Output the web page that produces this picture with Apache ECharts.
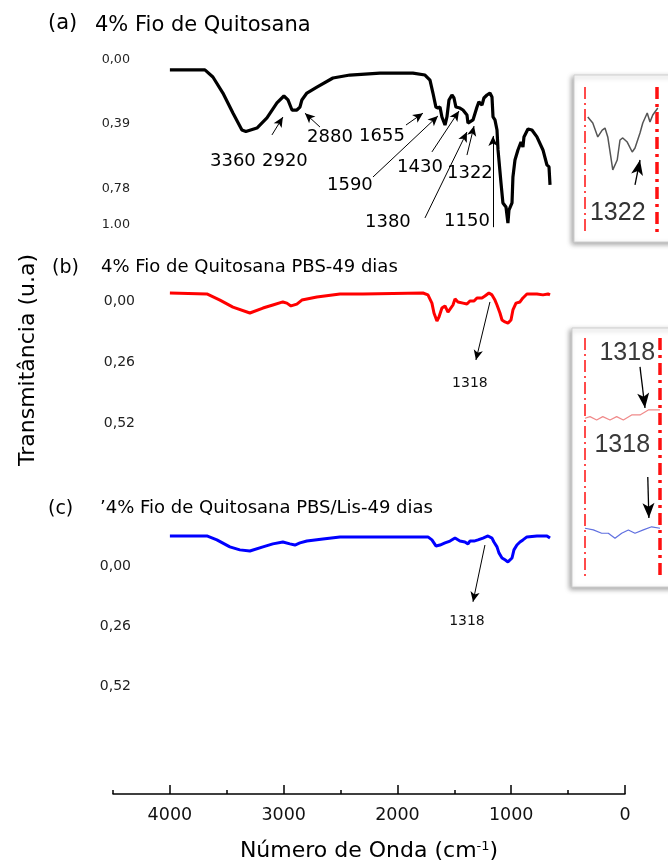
<!DOCTYPE html>
<html>
<head>
<meta charset="utf-8">
<script src="https://cdn.jsdelivr.net/npm/echarts@6/dist/echarts.min.js"></script>
<style>html,body{margin:0;padding:0;background:#fff}#c{width:668px;height:863px}</style>
</head>
<body>
<div id="c"></div>
<script>
// ---------- data ----------
// (a) 4% Fio de Quitosana
const blackWn = [4000,3692,3622,3534,3446,3367,3332,3235,3147,3059,2998,2962,2927,2884,2857,2840,2796,2708,2567,2418,2154,1864,1758,1714,1688,1662,1644,1626,1609,1582,1565,1547,1521,1503,1486,1451,1424,1407,1389,1380,1363,1336,1319,1301,1284,1257,1240,1213,1187,1169,1160,1143,1125,1116,1090,1073,1046,1029,1020,993,985,967,941,914,897,888,853,818,774,721,686,668,659];
const blackT  = [0.062,0.062,0.105,0.202,0.323,0.426,0.435,0.414,0.353,0.262,0.220,0.244,0.305,0.305,0.287,0.244,0.202,0.166,0.111,0.093,0.081,0.081,0.093,0.124,0.202,0.287,0.293,0.287,0.347,0.396,0.347,0.244,0.214,0.232,0.287,0.293,0.305,0.317,0.335,0.384,0.396,0.365,0.353,0.287,0.256,0.275,0.232,0.214,0.202,0.226,0.347,0.365,0.426,0.547,0.747,0.868,0.893,0.990,0.911,0.868,0.711,0.608,0.547,0.499,0.529,0.468,0.420,0.426,0.468,0.547,0.638,0.650,0.759];
// (b) PBS-49 dias
const redWn = [4000,3675,3560,3446,3297,3182,3095,3007,2972,2936,2884,2840,2708,2505,2303,1776,1732,1697,1679,1653,1635,1609,1582,1556,1512,1494,1468,1424,1389,1363,1327,1301,1257,1231,1196,1169,1143,1125,1099,1081,1055,1029,1002,985,958,923,897,862,774,721,677,659];
const redT  = [-0.034,-0.030,-0.004,0.026,0.051,0.030,0.017,0.004,0.009,0.021,0.013,-0.004,-0.017,-0.030,-0.030,-0.034,-0.026,0.009,0.051,0.085,0.068,0.030,0.021,0.047,0.017,-0.009,0.004,0.009,0.013,0.000,0.000,-0.013,-0.013,-0.021,-0.034,-0.026,-0.004,0.017,0.051,0.081,0.089,0.094,0.081,0.038,0.009,0.004,-0.013,-0.030,-0.030,-0.026,-0.030,-0.026];
// (c) PBS/Lis-49 dias
const blueWn = [4000,3675,3587,3473,3385,3297,3182,3095,3007,2945,2901,2857,2796,2655,2505,2154,1732,1697,1662,1626,1582,1538,1494,1451,1407,1380,1363,1327,1292,1248,1204,1169,1152,1125,1108,1081,1055,1029,993,976,950,923,897,862,774,686,659];
const blueT  = [-0.129,-0.129,-0.112,-0.082,-0.069,-0.064,-0.082,-0.095,-0.103,-0.095,-0.090,-0.099,-0.107,-0.116,-0.125,-0.125,-0.125,-0.112,-0.086,-0.090,-0.099,-0.107,-0.120,-0.107,-0.103,-0.095,-0.107,-0.107,-0.112,-0.120,-0.129,-0.120,-0.103,-0.082,-0.056,-0.034,-0.026,-0.017,-0.034,-0.069,-0.090,-0.103,-0.112,-0.125,-0.129,-0.129,-0.120];
// insets (zoomed region around 1320 cm-1)
const insetAWn = [1415,1406,1397,1389,1384,1379,1370,1362,1357,1352,1344,1335,1330,1321,1316,1308,1303,1298,1289];
const insetAT  = [0.205,0.247,0.342,0.295,0.281,0.342,0.568,0.500,0.363,0.349,0.377,0.445,0.418,0.315,0.247,0.178,0.240,0.192,0.144];
const insetBWn = [1420,1411,1399,1388,1375,1363,1351,1336,1321,1306,1285];
const insetBT  = [0.336,0.329,0.343,0.329,0.343,0.329,0.343,0.322,0.322,0.301,0.301];
const insetCWn = [1420,1405,1390,1378,1366,1354,1342,1330,1315,1300,1285];
const insetCT  = [0.796,0.803,0.817,0.817,0.838,0.817,0.803,0.817,0.803,0.790,0.796];
const insetEdges = [1420, 1290];

// peak annotations of (a)
const peaksA = ['3360','2920','2880','1655','1590','1430','1322','1380','1150'];

// ticks
const xTickValues = [0,1000,2000,3000,4000];
const yTicksA = [0, 0.39, 0.78, 1.00];
const yLabelsA = ['0,00','0,39','0,78','1.00'];
const yTicksBC = [0, 0.26, 0.52];
const yLabelsBC = ['0,00','0,26','0,52'];

// ---------- chart ----------
const FF = '"DejaVu Sans", sans-serif';
const zip = (xs, ys) => xs.map((x, i) => [x, ys[i]]);
const chart = echarts.init(document.getElementById('c'), null, {renderer: 'canvas'});

function mainX(grid, show) {
  return {type: 'value', gridIndex: grid, min: 0, max: 4500, inverse: true, show: show};
}
function mainY(grid, ticks, labels, min, max, off, fs) {
  return {
    type: 'value', gridIndex: grid, inverse: true, min: min, max: max, offset: off,
    axisLine: {show: false}, axisTick: {show: false}, splitLine: {show: false},
    axisLabel: {
      customValues: ticks, margin: 8, fontSize: fs, fontFamily: FF, color: '#222',
      formatter: v => { const i = ticks.findIndex(t => Math.abs(t - v) < 1e-6); return i >= 0 ? labels[i] : ''; }
    }
  };
}
function hiddenAxis(grid, min, max, inv) {
  return {type: 'value', gridIndex: grid, min: min, max: max, inverse: inv, show: false};
}
const arrowLine = {color: '#000', width: 1, type: 'solid'};
const lbl = (name, x, y) => ({name: name, coord: [x, y]});
const arr = (x1, y1, x2, y2) => [{coord: [x1, y1]}, {coord: [x2, y2]}];
const bigArr = (x1, y1, x2, y2) => [{coord: [x1, y1], symbol: 'none'}, {coord: [x2, y2], symbol: 'arrow', symbolSize: [9, 15]}];
const redThin = {color: '#ff1010', width: 1.5, type: [12, 4, 2, 4]};
const redThick = {color: '#ff1010', width: 3.5, type: [12, 5, 3, 5]};

const option = {
  animation: false,
  backgroundColor: '#fff',
  title: [
    {text: '(a)', left: 48, top: 13, padding: 0, textStyle: {fontSize: 21, fontWeight: 'normal', fontFamily: FF, color: '#000'}},
    {text: '4% Fio de Quitosana', left: 95, top: 15, padding: 0, textStyle: {fontSize: 21, fontWeight: 'normal', fontFamily: FF, color: '#000'}},
    {text: '(b)', left: 52, top: 259, padding: 0, textStyle: {fontSize: 19, fontWeight: 'normal', fontFamily: FF, color: '#000'}},
    {text: '4% Fio de Quitosana PBS-49 dias', left: 101, top: 258, padding: 0, textStyle: {fontSize: 18, fontWeight: 'normal', fontFamily: FF, color: '#000'}},
    {text: '(c)', left: 48, top: 500, padding: 0, textStyle: {fontSize: 19, fontWeight: 'normal', fontFamily: FF, color: '#000'}},
    {text: '\u02bc4% Fio de Quitosana PBS/Lis-49 dias', left: 100, top: 499, padding: 0, textStyle: {fontSize: 18, fontWeight: 'normal', fontFamily: FF, color: '#000'}}
  ],
  graphic: [
    {type: 'rect', z: 0, shape: {x: 574, y: 75, width: 110, height: 167},
      style: {fill: '#fff', stroke: '#d0d0d0', lineWidth: 1, shadowBlur: 5, shadowColor: 'rgba(0,0,0,0.35)', shadowOffsetX: -2, shadowOffsetY: 2}},
    {type: 'rect', z: 0, shape: {x: 572, y: 328, width: 110, height: 259},
      style: {fill: '#fff', stroke: '#d0d0d0', lineWidth: 1, shadowBlur: 5, shadowColor: 'rgba(0,0,0,0.35)', shadowOffsetX: -2, shadowOffsetY: 2}},
    {type: 'text', x: 28, y: 360, rotation: Math.PI / 2,
      style: {text: 'Transmitância (u.a)', fontSize: 22, fontFamily: FF, fill: '#000', align: 'center', verticalAlign: 'middle'}}
  ],
  grid: [
    {left: 113, right: 43, top: 56.4, height: 176.55},
    {left: 113, right: 43, top: 286.9, height: 143.35},
    {left: 113, right: 43, top: 531.1, height: 263.9},
    {left: 585, right: 8, top: 87, height: 146},
    {left: 585, right: 8, top: 338, height: 239}
  ],
  xAxis: [
    mainX(0, false),
    mainX(1, false),
    {
      type: 'value', gridIndex: 2, min: 0, max: 4500, interval: 500, inverse: true, position: 'bottom',
      axisLine: {show: true, onZero: false, lineStyle: {color: '#000', width: 1.5}},
      axisTick: {show: true, inside: true, length: 4, lineStyle: {color: '#000', width: 1.5}},
      splitLine: {show: false},
      axisLabel: {margin: 12, fontSize: 17.5, fontFamily: FF, color: '#111',
        formatter: v => xTickValues.indexOf(v) >= 0 ? String(v) : ''},
      name: 'Número de Onda (cm{sup|-1})', nameLocation: 'middle', nameGap: 46,
      nameTextStyle: {fontSize: 22, fontFamily: FF, color: '#000',
        rich: {sup: {fontSize: 13, fontFamily: FF, color: '#000', verticalAlign: 'top', padding: [0, 0, 8, 0]}}}
    },
    {
      type: 'value', gridIndex: 2, min: 0, max: 4500, inverse: true, position: 'bottom',
      axisLine: {show: false, onZero: false}, axisLabel: {show: false}, splitLine: {show: false},
      axisTick: {show: true, inside: true, length: 9, customValues: xTickValues, lineStyle: {color: '#000', width: 1.5}}
    },
    hiddenAxis(3, 1285, 1420, true),
    hiddenAxis(4, 1285, 1420, true)
  ],
  yAxis: [
    mainY(0, yTicksA, yLabelsA, -0.02, 1.05, -25, 12.7),
    mainY(1, yTicksBC, yLabelsBC, -0.06, 0.55, -30, 14),
    mainY(2, yTicksBC, yLabelsBC, -0.15, 0.984, -26, 14),
    hiddenAxis(3, 0, 1, true),
    hiddenAxis(4, 0, 1, true)
  ],
  series: [
    {
      type: 'line', name: '4% Fio de Quitosana', xAxisIndex: 0, yAxisIndex: 0,
      data: zip(blackWn, blackT), showSymbol: false,
      lineStyle: {color: '#000', width: 3.2}, itemStyle: {color: '#000'},
      markLine: {
        silent: true, symbol: ['none', 'arrow'], symbolSize: [7, 10], label: {show: false},
        lineStyle: arrowLine,
        data: [
          arr(3103, 0.456, 3007, 0.348),
          arr(2681, 0.408, 2813, 0.324),
          arr(1925, 0.396, 1776, 0.324),
          arr(2215, 0.711, 1644, 0.341),
          arr(1697, 0.559, 1459, 0.311),
          arr(1389, 0.578, 1327, 0.402),
          arr(1758, 0.959, 1389, 0.438),
          arr(1160, 1.015, 1160, 0.462)
        ]
      },
      markPoint: {
        silent: true, symbol: 'rect', symbolSize: 1, itemStyle: {color: 'rgba(0,0,0,0)'},
        label: {show: true, position: 'inside', formatter: p => p.name, fontSize: 18, fontFamily: FF, color: '#000'},
        data: [
          lbl(peaksA[0], 3446, 0.614), lbl(peaksA[1], 2989, 0.614), lbl(peaksA[2], 2593, 0.468),
          lbl(peaksA[3], 2136, 0.463), lbl(peaksA[4], 2418, 0.759), lbl(peaksA[5], 1802, 0.650),
          lbl(peaksA[6], 1363, 0.686), lbl(peaksA[7], 2084, 0.984), lbl(peaksA[8], 1389, 0.978)
        ]
      }
    },
    {
      type: 'line', name: 'PBS-49 dias', xAxisIndex: 1, yAxisIndex: 1,
      data: zip(redWn, redT), showSymbol: false,
      lineStyle: {color: '#ff0000', width: 3}, itemStyle: {color: '#ff0000'},
      markLine: {
        silent: true, symbol: ['none', 'arrow'], symbolSize: [7, 10], label: {show: false},
        lineStyle: arrowLine, data: [arr(1187, 0.004, 1310, 0.251)]
      },
      markPoint: {
        silent: true, symbol: 'rect', symbolSize: 1, itemStyle: {color: 'rgba(0,0,0,0)'},
        label: {show: true, position: 'inside', formatter: p => p.name, fontSize: 14, fontFamily: FF, color: '#111'},
        data: [lbl('1318', 1363, 0.349)]
      }
    },
    {
      type: 'line', name: 'PBS/Lis-49 dias', xAxisIndex: 2, yAxisIndex: 2,
      data: zip(blueWn, blueT), showSymbol: false,
      lineStyle: {color: '#0000ff', width: 3}, itemStyle: {color: '#0000ff'},
      markLine: {
        silent: true, symbol: ['none', 'arrow'], symbolSize: [7, 10], label: {show: false},
        lineStyle: arrowLine, data: [arr(1231, -0.09, 1336, 0.155)]
      },
      markPoint: {
        silent: true, symbol: 'rect', symbolSize: 1, itemStyle: {color: 'rgba(0,0,0,0)'},
        label: {show: true, position: 'inside', formatter: p => p.name, fontSize: 14, fontFamily: FF, color: '#111'},
        data: [lbl('1318', 1389, 0.241)]
      }
    },
    {
      type: 'line', name: 'inset a', xAxisIndex: 4, yAxisIndex: 3, z: 5,
      data: zip(insetAWn, insetAT), showSymbol: false,
      lineStyle: {color: '#555', width: 1.5}, itemStyle: {color: '#555'},
      markLine: {
        silent: true, symbol: ['none', 'none'], label: {show: false},
        data: [
          {xAxis: insetEdges[0], lineStyle: redThin},
          {xAxis: insetEdges[1], lineStyle: redThick},
          bigArr(1330, 0.671, 1321, 0.5)
        ],
        lineStyle: {color: '#000', width: 1.3, type: 'solid'}
      },
      markPoint: {
        silent: true, symbol: 'rect', symbolSize: 1, itemStyle: {color: 'rgba(0,0,0,0)'},
        label: {show: true, position: 'inside', formatter: p => p.name, fontSize: 25, fontFamily: '"Liberation Sans", sans-serif', color: '#333'},
        data: [lbl('1322', 1361, 0.863)]
      }
    },
    {
      type: 'line', name: 'inset b', xAxisIndex: 5, yAxisIndex: 4, z: 5,
      data: zip(insetBWn, insetBT), showSymbol: false,
      lineStyle: {color: '#f08a8a', width: 1.2}, itemStyle: {color: '#f08a8a'},
      markLine: {
        silent: true, symbol: ['none', 'none'], label: {show: false},
        data: [
          {xAxis: insetEdges[0], lineStyle: redThin},
          {xAxis: insetEdges[1] - 4, lineStyle: redThick},
          bigArr(1321, 0.121, 1312, 0.293),
          bigArr(1307, 0.582, 1305, 0.753)
        ],
        lineStyle: {color: '#000', width: 1.3, type: 'solid'}
      },
      markPoint: {
        silent: true, symbol: 'rect', symbolSize: 1, itemStyle: {color: 'rgba(0,0,0,0)'},
        label: {show: true, position: 'inside', formatter: p => p.name, fontSize: 25, fontFamily: '"Liberation Sans", sans-serif', color: '#3a3a3a'},
        data: [lbl('1318', 1344, 0.063), lbl('1318', 1353, 0.448)]
      }
    },
    {
      type: 'line', name: 'inset c', xAxisIndex: 5, yAxisIndex: 4, z: 5,
      data: zip(insetCWn, insetCT), showSymbol: false,
      lineStyle: {color: '#6070e0', width: 1.2}, itemStyle: {color: '#6070e0'}
    }
  ]
};
chart.setOption(option);
</script>
</body>
</html>
